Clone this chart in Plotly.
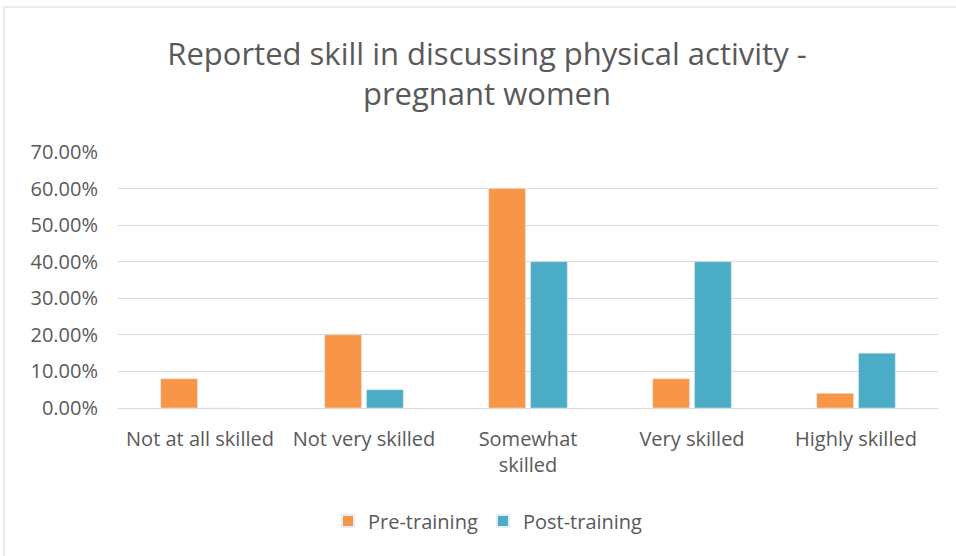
import plotly.graph_objects as go

categories = ["Not at all skilled", "Not very skilled", "Somewhat<br>skilled", "Very skilled", "Highly skilled"]
pre_training = [0.08, 0.20, 0.60, 0.08, 0.04]
post_training = [0.0, 0.05, 0.40, 0.40, 0.15]
y_ticks = [0, 0.1, 0.2, 0.3, 0.4, 0.5, 0.6, 0.7]

W, H = 956, 556
L, R, T, B = 118, 18, 152, 148
pw, ph = W - L - R, H - T - B

def px(x):
    return (x - L) / pw

def py(y):
    return (H - B - y) / ph

FONT = "Open Sans"
TXT = "#595959"
fig = go.Figure()
fig.add_trace(go.Bar(name="Pre-training", x=categories, y=pre_training, marker_color="#F79646"))
fig.add_trace(go.Bar(name="Post-training", x=categories, y=post_training, marker_color="#4BACC6"))

fig.update_layout(
    width=W, height=H,
    margin=dict(l=L, r=R, t=T, b=B),
    paper_bgcolor="white", plot_bgcolor="white",
    barmode="group", bargap=0.49, bargroupgap=0.12,
    title=dict(text="Reported skill in discussing physical activity -<br>pregnant women",
               xref="container", x=487 / W, xanchor="center", yref="container", y=1 - 65 / H, yanchor="middle",
               font=dict(family=FONT, size=31, color=TXT, weight=400)),
    font=dict(family=FONT, size=20, color=TXT),
    xaxis=dict(showgrid=False, showline=False, ticks="", ticklabelstandoff=17,
               tickfont=dict(size=20, color=TXT)),
    yaxis=dict(range=[0, 0.7], tickvals=y_ticks, tickformat=".2%", showgrid=True,
               gridcolor="#D9D9D9", gridwidth=1, zeroline=True, zerolinecolor="#D9D9D9",
               zerolinewidth=1, showline=False, ticks="", ticklabelstandoff=19,
               tickfont=dict(size=20, color=TXT)),
    legend=dict(orientation="h", x=px(488), xanchor="center", y=py(521), yanchor="middle",
                font=dict(size=20, color=TXT), itemsizing="constant", itemwidth=30),
    shapes=[dict(type="rect", xref="paper", yref="paper", x0=px(4), x1=px(970), y0=py(570), y1=py(7),
                 line=dict(color="#D9D9D9", width=1), layer="below")],
)
fig.write_html("out.html", config={"displayModeBar": False},
               post_script="document.body.style.margin='0';")
